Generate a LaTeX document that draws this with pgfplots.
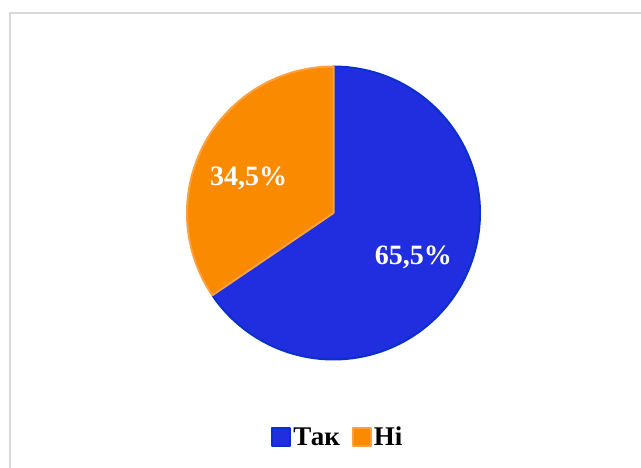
\documentclass[border=0pt]{standalone}
\usepackage{pgfplots}
\pgfplotsset{compat=1.18}
\usepackage{pgfplotstable}
\usepackage{fontspec}
\setmainfont{Liberation Serif}
\definecolor{pieblue}{HTML}{202EE0}
\definecolor{pieblueedge}{HTML}{0A30C8}
\definecolor{pieorange}{HTML}{FA8A00}
\definecolor{pieorangeedge}{HTML}{FFA040}
\pgfplotstableread{
value
65.5
34.5
}\piedata
\begin{document}%
\begin{tikzpicture}
\pgfplotstablegetelem{0}{value}\of\piedata
\pgfmathsetmacro{\va}{\pgfplotsretval}
\pgfplotstablegetelem{1}{value}\of\piedata
\pgfmathsetmacro{\vb}{\pgfplotsretval}
\pgfmathsetmacro{\angA}{90-3.6*\va}
\pgfmathsetmacro{\angB}{90+3.6*\vb}
\draw[line width=1.5bp, color=black!15] (10bp,0bp) -- (10bp,455bp) -- (641bp,455bp);
\begin{axis}[
  at={(333.5bp,255bp)}, anchor=origin,
  x=146.5bp, y=146.5bp,
  xmin=-1, xmax=1, ymin=-1, ymax=1,
  hide axis, clip=false,
  legend columns=-1,
  legend style={draw=none, fill=none, at={(0.515,-0.265)}, anchor=center,
    font=\bfseries\fontsize{27bp}{30bp}\selectfont,
    /tikz/every even column/.append style={column sep=10bp},
    /tikz/every odd column/.append style={column sep=0bp}},
  legend image code/.code={\fill[#1] (0bp,-9bp) rectangle (18bp,9bp);},
]
\addplot[fill=pieblue, draw=pieblueedge, line width=2bp, line join=round,
  domain=90:\angA, samples=120, variable=\t] ({cos(\t)},{sin(\t)}) -- (axis cs:0,0) -- cycle;
\addlegendentry{Так}
\addplot[fill=pieorange, draw=pieorangeedge, line width=2bp, line join=round,
  domain=90:\angB, samples=80, variable=\t] ({cos(\t)},{sin(\t)}) -- (axis cs:0,0) -- cycle;
\addlegendentry{Ні}
\node[text=white, font=\bfseries\fontsize{28bp}{30bp}\selectfont] at (axis cs:0.546,-0.305) {65,5\%};
\node[text=white, font=\bfseries\fontsize{28bp}{30bp}\selectfont] at (axis cs:-0.58,0.237) {34,5\%};
\end{axis}
\pgfresetboundingbox
\useasboundingbox (0,0) rectangle (641bp,468bp);
\end{tikzpicture}%
\end{document}
